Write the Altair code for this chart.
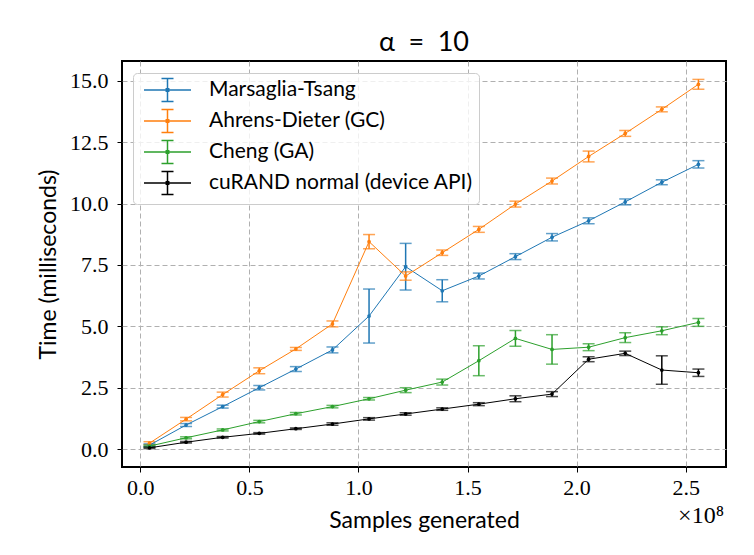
import altair as alt
import pandas as pd

samples = [4194304, 20971520, 37748736, 54525952, 71303168, 88080384, 104857600,
           121634816, 138412032, 155189248, 171966464, 188743680, 205520896,
           222298112, 239075328, 255852544]

series_names = ["Marsaglia-Tsang", "Ahrens-Dieter (GC)", "Cheng (GA)", "cuRAND normal (device API)"]
series_colors = ["#1f77b4", "#ff7f0e", "#2ca02c", "#000000"]

mt_mean = [0.16, 0.98, 1.73, 2.50, 3.26, 4.04, 5.42, 7.43, 6.45, 7.05, 7.84, 8.63, 9.30, 10.07, 10.87, 11.60]
mt_err = [0.05, 0.06, 0.06, 0.09, 0.10, 0.12, 1.10, 0.95, 0.45, 0.12, 0.12, 0.15, 0.12, 0.12, 0.10, 0.15]

ad_mean = [0.24, 1.22, 2.22, 3.19, 4.08, 5.10, 8.45, 7.05, 8.00, 8.95, 9.98, 10.92, 11.92, 12.86, 13.84, 14.86]
ad_err = [0.06, 0.07, 0.10, 0.12, 0.06, 0.12, 0.29, 0.17, 0.11, 0.12, 0.12, 0.12, 0.22, 0.12, 0.10, 0.20]

cheng_mean = [0.12, 0.46, 0.78, 1.12, 1.44, 1.73, 2.05, 2.40, 2.73, 3.60, 4.51, 4.06, 4.15, 4.54, 4.82, 5.16]
cheng_err = [0.04, 0.04, 0.04, 0.05, 0.05, 0.05, 0.05, 0.10, 0.12, 0.61, 0.32, 0.60, 0.14, 0.20, 0.16, 0.16]

curand_mean = [0.05, 0.28, 0.48, 0.64, 0.83, 1.02, 1.23, 1.43, 1.63, 1.83, 2.05, 2.24, 3.66, 3.90, 3.22, 3.11]
curand_err = [0.03, 0.03, 0.03, 0.03, 0.03, 0.05, 0.05, 0.05, 0.05, 0.06, 0.12, 0.10, 0.10, 0.09, 0.58, 0.15]

means = [mt_mean, ad_mean, cheng_mean, curand_mean]
errs = [mt_err, ad_err, cheng_err, curand_err]

rows = []
for name, m, e in zip(series_names, means, errs):
    for s, v, d in zip(samples, m, e):
        rows.append({"series": name, "x": s / 1e8, "y": v, "lo": v - d, "hi": v + d})
df = pd.DataFrame(rows)

LABEL_FONT = "Liberation Serif"
TEXT_FONT = "Lato"

xscale = alt.Scale(domain=[-0.084, 2.685], nice=False, zero=False)
yscale = alt.Scale(domain=[-0.73, 15.81], nice=False, zero=False)
cscale = alt.Scale(domain=series_names, range=series_colors)

xaxis = alt.Axis(values=[0, 0.5, 1.0, 1.5, 2.0, 2.5], format=".1f", title="Samples generated",
                 titleX=302, titleY=53, titleBaseline="middle", titleAlign="center")
yaxis = alt.Axis(values=[0, 2.5, 5, 7.5, 10, 12.5, 15], format=".1f", title="Time (milliseconds)",
                 titleX=-74, titleY=203, titleBaseline="middle", titleAlign="center", titleAngle=270)

legend_path = "M-2.35,0H2.35M0,-1.15V1.15M-0.6,-1.15H0.6M-0.6,1.15H0.6M-0.12,-0.12h0.24v0.24h-0.24z"
legend = alt.Legend(
    title=None, orient="none", legendX=11, legendY=12, padding=6,
    fillColor="rgba(255,255,255,0.8)", strokeColor="#cccccc", cornerRadius=4,
    labelFont=TEXT_FONT, labelFontSize=21, labelColor="#000000",
    symbolType=legend_path, symbolSize=400, symbolStrokeWidth=1.5,
    symbolFillColor="transparent", symbolOpacity=1,
    symbolOffset=17.5, labelOffset=30.5, rowPadding=1, labelLimit=400,
)
color = alt.Color("series:N", scale=cscale, legend=legend)

base = alt.Chart(df)

rules = base.mark_rule(strokeWidth=1.5).encode(
    x=alt.X("x:Q", scale=xscale, axis=xaxis),
    y=alt.Y("lo:Q", scale=yscale, axis=yaxis),
    y2="hi:Q",
    color=color,
)
caps_lo = base.mark_tick(orient="horizontal", size=12, thickness=1.5).encode(
    x="x:Q", y="lo:Q", color=color
)
caps_hi = base.mark_tick(orient="horizontal", size=12, thickness=1.5).encode(
    x="x:Q", y="hi:Q", color=color
)
lines = base.mark_line(strokeWidth=1).encode(
    x="x:Q", y="y:Q", color=color,
)
points = base.mark_point(filled=True, size=14, opacity=1).encode(
    x="x:Q", y="y:Q", color=color
)
exp_text = alt.Chart(pd.DataFrame({"t": ["×10⁸"]})).mark_text(
    font=LABEL_FONT, fontSize=24, align="right", baseline="middle", color="#000000"
).encode(text="t:N", x=alt.value(602), y=alt.value(455))

chart = alt.layer(rules, caps_lo, caps_hi, lines, points, exp_text).properties(
    width=604, height=406,
    title=alt.TitleParams("α\u2002=\u200210", font=TEXT_FONT, fontSize=27, fontWeight="normal",
                          color="#000000", offset=4),
    autosize=alt.AutoSizeParams(type="none"),
    padding={"left": 114, "top": 53, "right": 20, "bottom": 80},
).configure_view(
    stroke="#000000", strokeWidth=2
).configure_axis(
    domain=False, grid=True, gridColor="#b0b0b0", gridDash=[5, 3], gridWidth=1,
    tickColor="#000000", tickSize=5, tickWidth=1,
    labelFont=LABEL_FONT, labelFontSize=22, labelColor="#000000",
    titleFont=TEXT_FONT, titleFontSize=23, titleFontWeight="normal", titleColor="#000000",
).configure_axisX(labelPadding=5).configure_axisY(labelPadding=9)

chart.save("out.html", embed_options={"renderer": "svg", "actions": False})
